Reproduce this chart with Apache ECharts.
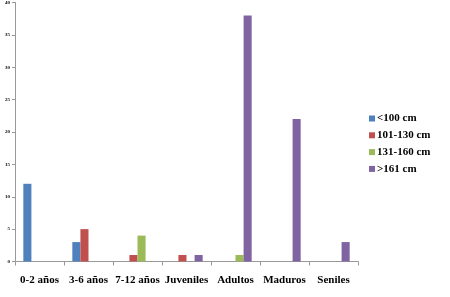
<!DOCTYPE html>
<html>
<head>
<meta charset="utf-8">
<script src="https://cdn.jsdelivr.net/npm/echarts@6/dist/echarts.min.js"></script>
<style>
html,body{margin:0;padding:0;background:#fff;}
#main{width:450px;height:297px;}
</style>
</head>
<body>
<div id="main"></div>
<script>
// categorias (grupos de edad)
var categorias = ["0-2 años", "3-6 años", "7-12 años", "Juveniles", "Adultos", "Maduros", "Seniles"];
// tallas
var series_nombres = ["<100 cm", "101-130 cm", "131-160 cm", ">161 cm"];
var menos100 = [12, 3, 0, 0, 0, 0, 0];
var de101a130 = [0, 5, 1, 1, 0, 0, 0];
var de131a160 = [0, 0, 4, 0, 1, 0, 0];
var mas161 = [0, 0, 0, 1, 38, 22, 3];
var colores = ["#4F81BD", "#C0504D", "#9BBB59", "#8064A2"];

var datos = [menos100, de101a130, de131a160, mas161];
var myChart = echarts.init(document.getElementById("main"));

var serie = [];
for (var i = 0; i < datos.length; i++) {
	serie.push({
		name: series_nombres[i],
		type: "bar",
		data: datos[i],
		barGap: "0%",
		barCategoryGap: "34%",
		itemStyle: { color: colores[i] }
	});
}

var option = {
	animation: false,
	textStyle: { fontFamily: "Liberation Serif" },
	grid: { left: 15, right: 92, top: 0, bottom: 35.5, containLabel: false },
	legend: {
		orient: "vertical",
		left: 364,
		top: 108,
		itemWidth: 6,
		itemHeight: 6,
		itemGap: 5.8,
		icon: "rect",
		textStyle: { fontFamily: "Liberation Serif", fontWeight: "bold", fontSize: 11, color: "#000", padding: [0, 0, 0, -3] },
		data: series_nombres
	},
	xAxis: {
		type: "category",
		data: categorias,
		axisLine: { lineStyle: { color: "#999" } },
		axisTick: { show: true, length: 4, lineStyle: { color: "#999" } },
		axisLabel: { color: "#000", fontFamily: "Liberation Serif", fontWeight: "bold", fontSize: 11, margin: 13, interval: 0 }
	},
	yAxis: {
		type: "value",
		min: 0,
		max: 40,
		interval: 5,
		axisLine: { show: true, lineStyle: { color: "#999" } },
		axisTick: { show: true, length: 3, lineStyle: { color: "#999" } },
		splitLine: { show: false },
		axisLabel: { color: "#000", fontSize: 5, margin: 5, fontFamily: "Liberation Serif", fontWeight: "bold" }
	},
	series: serie
};

myChart.setOption(option);
</script>
</body>
</html>
